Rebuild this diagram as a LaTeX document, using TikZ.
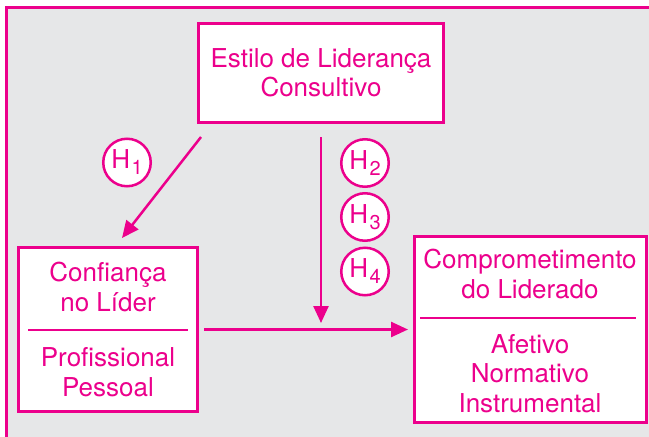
\documentclass[tikz,border=0pt]{standalone}
\usepackage{fontspec}
\setmainfont{TeX Gyre Heros}
\usepackage{tikz}
\usetikzlibrary{arrows.meta, positioning}

\definecolor{pink}{HTML}{EC008C}
\definecolor{panel}{HTML}{E6E7E8}

\newcommand{\hypsub}[1]{H\kern1.5pt\raisebox{-6pt}{\fontsize{20}{20}\selectfont #1}}

\begin{document}
\begin{tikzpicture}[x=1pt, y=-1pt]

% Define styles
\tikzstyle{block} = [rectangle, draw=pink, line width=3pt, fill=white, inner sep=0pt, outer sep=0pt]
\tikzstyle{boxtext} = [text=pink, align=center, inner sep=0pt, font=\fontsize{26}{29.5}\selectfont]
\tikzstyle{hyp} = [circle, draw=pink, line width=2.5pt, fill=white, minimum size=47.5pt,
    inner sep=0pt, text=pink, font=\fontsize{26}{26}\selectfont]
\tikzstyle{line} = [draw=pink, line width=2.5pt, -{Triangle[length=17pt, width=15pt]}]
\tikzstyle{divider} = [draw=pink, line width=2.5pt]

% Background and frame
\useasboundingbox (0,0) rectangle (649,437);
\fill[white] (0,0) rectangle (649,437);
\fill[panel] (6.5,7) rectangle (700,480);
\draw[pink, line width=3pt] (6.5,7) rectangle (700,480);

% Place boxes
\node [block, boxtext, minimum width=245pt, minimum height=99pt] (leader) at (321,73) {Estilo de Liderança\\Consultivo};
\node [block, minimum width=179pt, minimum height=164pt] (trust) at (108,329.5) {};
\node [block, minimum width=232pt, minimum height=186pt] (commitment) at (530.5,329.5) {};

% Texts inside the lower boxes
\node [boxtext] (trust top) at (108,287) {Confiança\\no Líder};
\node [boxtext] (trust bottom) at (108,372) {Profissional\\Pessoal};
\draw [divider] (28,330) -- (188,330);
\node [boxtext] (commitment top) at (530,274) {Comprometimento\\do Liderado};
\node [boxtext] (commitment bottom) at (530,373.5) {Afetivo\\Normativo\\Instrumental};
\draw [divider] (420,318) -- (636,318);

% Hypotheses
\node [hyp] (h1) at (127,162.5) {\hypsub{1}};
\node [hyp] (h2) at (365,163) {\hypsub{2}};
\node [hyp] (h3) at (365,217) {\hypsub{3}};
\node [hyp] (h4) at (365,271.5) {\hypsub{4}};

% Draw arrows
\coordinate (h1 start) at (201,137);
\coordinate (h1 end) at (122,238);
\coordinate (h234 start) at (321,137);
\coordinate (h234 end) at (321,323);
\path [line] (h1 start) -- (h1 end);
\path [line] (h234 start) -- (h234 end);
\path [line, shorten <=6.5pt, shorten >=6.5pt] (trust) -- (commitment);

\end{tikzpicture}
\end{document}
